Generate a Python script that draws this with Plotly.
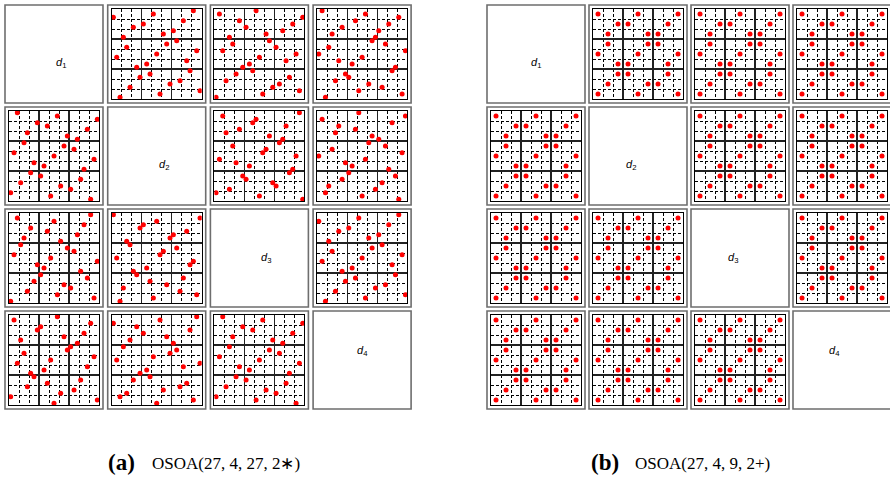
import plotly.graph_objects as go

# ---------------- data ----------------
# (a) OSOA(27, 4, 27, 2*) : 27 runs, 4 columns, 27 levels (0..26)
a_d1 = [0, 1, 2, 3, 4, 5, 6, 7, 8, 9, 10, 11, 12, 13, 14, 15, 16, 17, 18, 19, 20, 21, 22, 23, 24, 25, 26]
a_d2 = [2, 14, 26, 5, 17, 20, 8, 11, 23, 7, 10, 22, 1, 13, 25, 4, 16, 19, 3, 15, 18, 6, 9, 21, 0, 12, 24]
a_d3 = [0, 14, 25, 17, 19, 3, 22, 6, 11, 8, 10, 21, 13, 24, 2, 18, 5, 16, 4, 15, 20, 9, 23, 7, 26, 1, 12]
a_d4 = [2, 25, 12, 19, 15, 5, 9, 8, 22, 23, 10, 6, 13, 0, 26, 3, 20, 16, 17, 4, 18, 7, 21, 11, 24, 14, 1]

# (b) OSOA(27, 4, 9, 2+) : 27 runs, 4 columns, 9 levels (0..8)
b_d1 = [0, 0, 0, 4, 4, 4, 8, 8, 8, 2, 2, 2, 3, 3, 3, 7, 7, 7, 1, 1, 1, 5, 5, 5, 6, 6, 6]
b_d2 = [0, 4, 8, 0, 4, 8, 0, 4, 8, 2, 3, 7, 2, 3, 7, 2, 3, 7, 1, 5, 6, 1, 5, 6, 1, 5, 6]
b_d3 = [0, 4, 8, 4, 8, 0, 8, 0, 4, 2, 3, 7, 3, 7, 2, 7, 2, 3, 1, 5, 6, 5, 6, 1, 6, 1, 5]
b_d4 = [0, 8, 4, 4, 0, 8, 8, 4, 0, 2, 7, 3, 3, 2, 7, 7, 3, 2, 1, 6, 5, 5, 1, 6, 6, 5, 1]

var_names = ["1", "2", "3", "4"]
captions = [("(a)", "OSOA(27, 4, 27, 2∗)"), ("(b)", "OSOA(27, 4, 9, 2+)")]

# ---------------- layout ----------------
W, H = 890, 477
def px(x):
    return x / W
def py(y):
    return 1 - y / H

grids = [
    dict(cols=[a_d1, a_d2, a_d3, a_d4], n=27, left=5.0, step=102.7, cap_x=106),
    dict(cols=[b_d1, b_d2, b_d3, b_d4], n=9, left=487.0, step=102.0, cap_x=589),
]
TOP, VSTEP, BOX, INSET = 5.0, 102.0, 98.0, 4.0

fig = go.Figure()
shapes, annotations = [], []
layout_axes = {}
k = 0
for gi, g in enumerate(grids):
    n = g["n"]
    solid = [n * m / 3 - 0.5 for m in (1, 2)]
    dashed = [n * m / 9 - 0.5 for m in range(1, 9) if m % 3]
    for i in range(4):
        for j in range(4):
            bx0 = g["left"] + g["step"] * j
            by0 = TOP + VSTEP * i
            shapes.append(dict(type="rect", xref="paper", yref="paper",
                               x0=px(bx0), x1=px(bx0 + BOX), y0=py(by0 + BOX), y1=py(by0),
                               line=dict(color="#6e6e6e", width=1.6), fillcolor="rgba(0,0,0,0)"))
            if i == j:
                annotations.append(dict(xref="paper", yref="paper",
                                        x=px(bx0 + BOX / 2), y=py(by0 + BOX / 2),
                                        text="<i>d</i><sub>%s</sub>" % var_names[i],
                                        showarrow=False,
                                        font=dict(family="Liberation Sans", size=11, color="black")))
                continue
            k += 1
            common = dict(range=[-0.5, n - 0.5], showticklabels=False, ticks="",
                          zeroline=False, showline=True, mirror=True,
                          linecolor="black", linewidth=1,
                          tickvals=solid, showgrid=True, gridcolor="#222222", gridwidth=1.1,
                          minor=dict(tickvals=dashed, showgrid=True, gridcolor="black",
                                     gridwidth=1, griddash="3px,2px", ticks=""),
                          fixedrange=True)
            layout_axes["xaxis%d" % k] = dict(common, domain=[px(bx0 + INSET), px(bx0 + BOX - INSET)],
                                              anchor="y%d" % k)
            layout_axes["yaxis%d" % k] = dict(common, domain=[py(by0 + BOX - INSET), py(by0 + INSET)],
                                              anchor="x%d" % k)
            fig.add_trace(go.Scatter(x=g["cols"][j], y=g["cols"][i], mode="markers",
                                     xaxis="x%d" % k, yaxis="y%d" % k,
                                     marker=dict(color="#ff0000", size=5, symbol="circle",
                                                 line=dict(width=0)),
                                     showlegend=False, hoverinfo="skip"))
    lab, txt = captions[gi]
    annotations.append(dict(xref="paper", yref="paper", x=px(g["cap_x"]), y=py(462),
                            xanchor="left", yanchor="middle", text="<b>%s</b>" % lab,
                            showarrow=False,
                            font=dict(family="Liberation Serif", size=23, color="black")))
    annotations.append(dict(xref="paper", yref="paper", x=px(g["cap_x"] + 44), y=py(463),
                            xanchor="left", yanchor="middle", text=txt, showarrow=False,
                            font=dict(family="Liberation Serif", size=17, color="black")))

fig.update_layout(width=W, height=H, margin=dict(l=0, r=0, t=0, b=0),
                  paper_bgcolor="white", plot_bgcolor="white",
                  shapes=shapes, annotations=annotations, **layout_axes)
fig.write_html("out.html", config={"displayModeBar": False, "staticPlot": True},
               post_script="document.body.style.margin='0';document.body.style.overflow='hidden';")
